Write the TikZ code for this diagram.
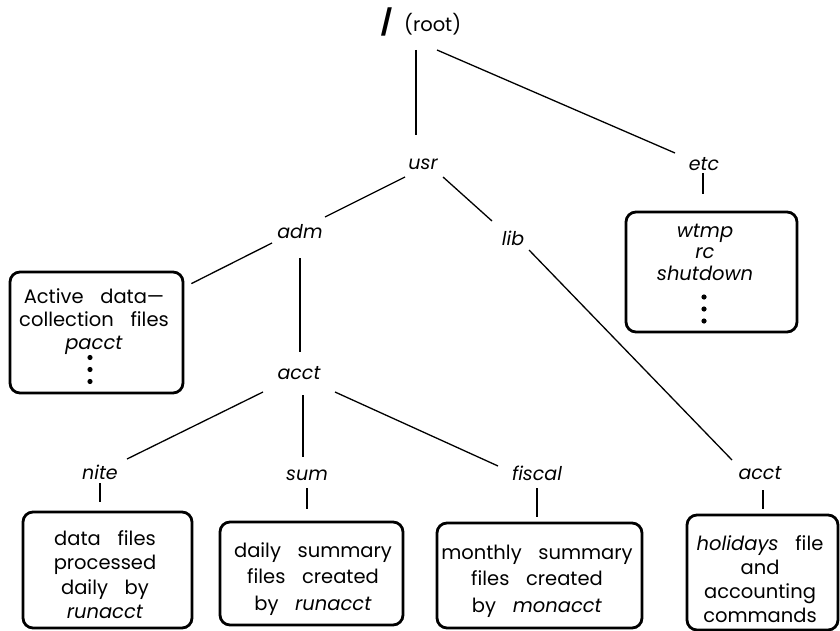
\documentclass[tikz,border=0pt]{standalone}
\usepackage{fontspec}
\setmainfont{Poppins}[WordSpace=3.2]
\usetikzlibrary{calc}
\begin{document}
\begin{tikzpicture}[x=1pt,y=-1pt,
  dirlabel/.style={font=\fontsize{19}{22}\selectfont\itshape, inner sep=0pt},
  rootlabel/.style={font=\fontsize{19.5}{22}\selectfont, inner sep=0pt},
  infobox/.style={draw, line width=2.8pt, rounded corners=10pt, inner sep=0pt},
  infotext/.style={align=center, inner sep=0pt},
  branch/.style={line width=1.3pt},
  listdot/.style={fill=black}]
\useasboundingbox (0,0) rectangle (840,631);

% directory names
\node[rootlabel] (root) at (421,22) {{\fontsize{25}{25}\selectfont\bfseries/}\hspace{12pt}(root)};
\node[dirlabel] (usr)    at (423,164) {usr};
\node[dirlabel] (etc)    at (704,164) {etc};
\node[dirlabel] (adm)    at (300,232) {adm};
\node[dirlabel] (lib)    at (513,238) {lib};
\node[dirlabel] (acct)   at (299,373) {acct};
\node[dirlabel] (nite)   at (100,472) {nite};
\node[dirlabel] (sum)    at (307,475) {sum};
\node[dirlabel] (fiscal) at (537,473) {fiscal};
\node[dirlabel] (acct2)  at (760,473) {acct};

% file boxes
\node[infobox, minimum width=173pt, minimum height=121pt] (actbox)    at (96.5,332.5) {};
\node[infobox, minimum width=171pt, minimum height=120pt] (etcbox)    at (711.5,272) {};
\node[infobox, minimum width=169pt, minimum height=116pt] (nitebox)   at (107.5,570) {};
\node[infobox, minimum width=183pt, minimum height=103pt] (sumbox)    at (311.5,573.5) {};
\node[infobox, minimum width=205pt, minimum height=105pt] (fiscalbox) at (539.5,575.5) {};
\node[infobox, minimum width=151pt, minimum height=115pt] (acct2box)  at (762.5,572.5) {};

% box contents
\node[infotext, font=\fontsize{19.5}{23}\selectfont] (acttext) at (94,322)
  {Active data—\\collection files\\\textit{pacct}};
\node[infotext, font=\fontsize{19.5}{21.5}\selectfont] (etctext) at (705,252)
  {\textit{wtmp}\\\textit{rc}\\\textit{shutdown}};
\node[infotext, font=\fontsize{19.5}{24.5}\selectfont] (nitetext) at (105,574.5)
  {data files\\processed\\daily by\\\textit{runacct}};
\node[infotext, font=\fontsize{19.5}{26.5}\selectfont] (sumtext) at (313,579)
  {daily summary\\files created\\by \textit{runacct}};
\node[infotext, font=\fontsize{19.5}{26.5}\selectfont] (fiscaltext) at (537,581)
  {monthly summary\\files created\\by \textit{monacct}};
\node[infotext, font=\fontsize{19.5}{24}\selectfont] (acct2text) at (760,579)
  {\textit{holidays} file\\and\\accounting\\commands};

% continuation dots
\foreach \dy in {25,37,49} {
  \fill[listdot] ($(actbox.center)+(-6.5,\dy)$) circle (2.6);
  \fill[listdot] ($(etcbox.center)+(-7.5,\dy)$) circle (2.6);
}

% tree branches
\draw[branch] ($(root)+(-5,28)$) -- ($(usr)+(-7,-29)$);
\draw[branch] ($(root)+(16,28)$) -- ($(etc)+(-29,-11)$);
\draw[branch] ($(usr)+(-18,13)$) -- ($(adm)+(25,-15)$);
\draw[branch] ($(usr)+(20,13)$) -- ($(lib)+(-21,-17)$);
\draw[branch] ($(etc)+(-1,9)$) -- ($(etc |- etcbox.north)+(-1,-17)$);
\draw[branch] ($(adm)+(-28,11)$) -- ($(actbox.north east)+(7,13)$);
\draw[branch] ($(adm)+(0,26)$) -- ($(acct)+(1,-21)$);
\draw[branch] ($(lib)+(16,12)$) -- ($(acct2)+(-28,-13)$);
\draw[branch] ($(acct)+(-36,19)$) -- ($(nite)+(27,-13)$);
\draw[branch] ($(acct)+(4,22)$) -- ($(sum)+(-4,-18)$);
\draw[branch] ($(acct)+(36,19)$) -- ($(fiscal)+(-39,-7)$);
\draw[branch] ($(nite)+(0,11)$) -- ($(nite |- nitebox.north)+(0,-9)$);
\draw[branch] ($(sum)+(0,13)$) -- ($(sum |- sumbox.north)+(0,-12)$);
\draw[branch] ($(fiscal)+(0,15)$) -- ($(fiscal |- fiscalbox.north)+(0,-5)$);
\draw[branch] ($(acct2)+(3,17)$) -- ($(acct2 |- acct2box.north)+(3,-5)$);
\end{tikzpicture}
\end{document}
